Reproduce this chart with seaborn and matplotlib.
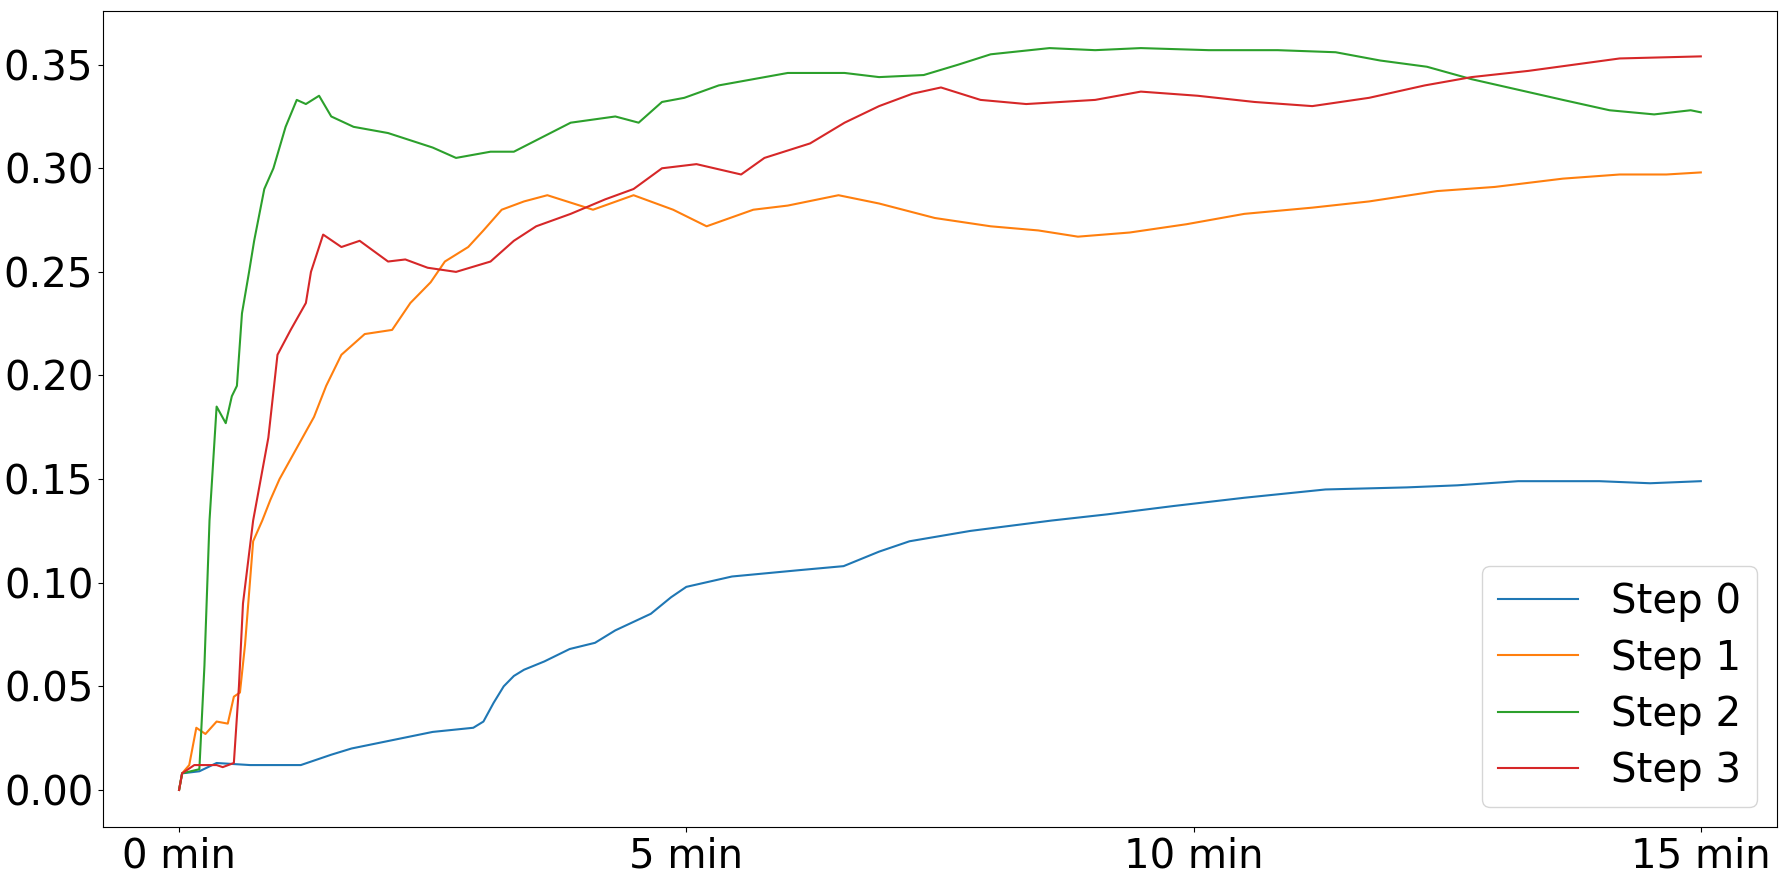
import numpy as np
import pandas as pd
import seaborn as sns
import matplotlib
matplotlib.use("Agg")
import matplotlib.pyplot as plt

# values (time in minutes)
t0 = [0, 0.03, 0.2, 0.37, 0.7, 1.2, 1.5, 1.7, 2.2, 2.5, 2.9, 3.0, 3.1, 3.2, 3.3, 3.4, 3.6, 3.85, 4.1, 4.3,
      4.65, 4.85, 5.0, 5.45, 6.1, 6.55, 6.9, 7.2, 7.8, 8.6, 9.15, 9.8, 10.5, 11.3, 12.1, 12.6, 13.2, 14.0, 14.5, 15.0]
step0 = [0, 0.008, 0.009, 0.013, 0.012, 0.012, 0.017, 0.02, 0.025, 0.028, 0.03, 0.033, 0.042, 0.05, 0.055, 0.058,
         0.062, 0.068, 0.071, 0.077, 0.085, 0.093, 0.098, 0.103, 0.106, 0.108, 0.115, 0.12, 0.125, 0.13, 0.133,
         0.137, 0.141, 0.145, 0.146, 0.147, 0.149, 0.149, 0.148, 0.149]

t1 = [0, 0.03, 0.1, 0.17, 0.26, 0.37, 0.48, 0.54, 0.6, 0.65, 0.73, 0.82, 0.9, 0.99, 1.16, 1.33, 1.45, 1.6,
      1.83, 2.1, 2.28, 2.48, 2.62, 2.85, 3.0, 3.18, 3.4, 3.63, 4.08, 4.48, 4.87, 5.2, 5.66, 6.0, 6.5, 6.9,
      7.45, 8.0, 8.47, 8.86, 9.37, 9.93, 10.5, 11.17, 11.73, 12.4, 12.97, 13.64, 14.2, 14.66, 15.0]
step1 = [0, 0.008, 0.012, 0.03, 0.027, 0.033, 0.032, 0.045, 0.047, 0.07, 0.12, 0.13, 0.14, 0.15, 0.165, 0.18,
         0.195, 0.21, 0.22, 0.222, 0.235, 0.245, 0.255, 0.262, 0.27, 0.28, 0.284, 0.287, 0.28, 0.287, 0.28,
         0.272, 0.28, 0.282, 0.287, 0.283, 0.276, 0.272, 0.27, 0.267, 0.269, 0.273, 0.278, 0.281, 0.284, 0.289,
         0.291, 0.295, 0.297, 0.297, 0.298]

t2 = [0, 0.03, 0.2, 0.25, 0.3, 0.37, 0.46, 0.52, 0.57, 0.62, 0.69, 0.74, 0.84, 0.93, 1.05, 1.16, 1.25, 1.38,
      1.5, 1.72, 2.06, 2.5, 2.73, 3.07, 3.3, 3.58, 3.86, 4.3, 4.53, 4.76, 4.98, 5.32, 5.66, 6.0, 6.56, 6.9,
      7.34, 7.68, 8.0, 8.58, 9.03, 9.48, 10.15, 10.83, 11.4, 11.84, 12.3, 12.74, 13.19, 13.64, 14.1, 14.54,
      14.9, 15.0]
step2 = [0, 0.008, 0.01, 0.06, 0.13, 0.185, 0.177, 0.19, 0.195, 0.23, 0.25, 0.265, 0.29, 0.30, 0.32, 0.333,
         0.331, 0.335, 0.325, 0.32, 0.317, 0.31, 0.305, 0.308, 0.308, 0.315, 0.322, 0.325, 0.322, 0.332, 0.334,
         0.34, 0.343, 0.346, 0.346, 0.344, 0.345, 0.35, 0.355, 0.358, 0.357, 0.358, 0.357, 0.357, 0.356, 0.352,
         0.349, 0.343, 0.338, 0.333, 0.328, 0.326, 0.328, 0.327]

t3 = [0, 0.03, 0.15, 0.37, 0.43, 0.54, 0.59, 0.63, 0.73, 0.88, 0.97, 1.1, 1.25, 1.3, 1.42, 1.6, 1.78, 2.06,
      2.23, 2.45, 2.73, 3.07, 3.3, 3.52, 3.86, 4.2, 4.48, 4.76, 5.1, 5.54, 5.77, 6.22, 6.56, 6.9, 7.23, 7.51,
      7.9, 8.35, 9.03, 9.48, 10.04, 10.6, 11.17, 11.73, 12.28, 12.74, 13.3, 13.75, 14.2, 15.0]
step3 = [0, 0.008, 0.012, 0.012, 0.011, 0.013, 0.05, 0.09, 0.13, 0.17, 0.21, 0.222, 0.235, 0.25, 0.268, 0.262,
         0.265, 0.255, 0.256, 0.252, 0.25, 0.255, 0.265, 0.272, 0.278, 0.285, 0.29, 0.3, 0.302, 0.297, 0.305,
         0.312, 0.322, 0.33, 0.336, 0.339, 0.333, 0.331, 0.333, 0.337, 0.335, 0.332, 0.33, 0.334, 0.34, 0.344,
         0.347, 0.35, 0.353, 0.354]

tick_pos = [0, 5, 10, 15]
tick_labels = ["0 min", "5 min", "10 min", "15 min"]

frames = []
for name, t, v in [("Step 0", t0, step0), ("Step 1", t1, step1), ("Step 2", t2, step2), ("Step 3", t3, step3)]:
    frames.append(pd.DataFrame({"time": t, "value": v, "step": name}))
df = pd.concat(frames, ignore_index=True)

fig = plt.figure(figsize=(17.88, 8.8), dpi=100)
ax = fig.add_axes([0.0576, 0.0602, 0.9362, 0.9273])
sns.lineplot(data=df, x="time", y="value", hue="step", palette="tab10",
             estimator=None, sort=False, linewidth=1.5, ax=ax)

ax.set_xticks(tick_pos)
ax.set_xticklabels(tick_labels)
ax.tick_params(labelsize=29)
ax.set_xlabel("")
ax.set_ylabel("")
ax.yaxis.set_major_formatter(matplotlib.ticker.FormatStrFormatter("%.2f"))

handles, labels = ax.get_legend_handles_labels()
ax.legend(handles, labels, loc="lower right", fontsize=29, labelspacing=0.4)

fig.savefig("out.png", dpi=100)
